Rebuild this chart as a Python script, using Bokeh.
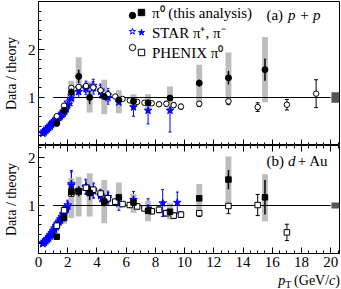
import numpy as np
from bokeh.plotting import figure
from bokeh.models import (ColumnDataSource, FixedTicker, LinearAxis, Label, Div,
                          Legend, LegendItem, Range1d, Whisker, TeeHead)
from bokeh.layouts import column
from bokeh.embed import file_html
from bokeh.resources import INLINE

# ---------------- data ----------------
pi0_x = [1.25, 1.75, 2.25, 2.75, 3.5, 4.5, 5.5, 6.5, 7.5, 9.0, 11.0, 13.0, 15.5]
pi0_pp_y = [0.46, 0.73, 1.11, 1.44, 1.00, 1.02, 0.95, 0.92, 0.89, 0.99, 1.30, 1.41, 1.58]
pi0_pp_stat = [0.02, 0.04, 0.08, 0.14, 0.14, 0.06, 0.05, 0.04, 0.05, 0.06, 0.07, 0.14, 0.23]
pi0_pp_sys_bottom = [0.44, 0.70, 0.90, 1.11, 0.69, 0.65, 0.67, 0.78, 0.77, 0.73, 0.90, 0.90, 0.90]
pi0_pp_sys_top = [0.48, 0.76, 1.35, 1.84, 1.33, 1.37, 1.15, 1.07, 1.07, 1.23, 1.68, 1.94, 2.26]

pi0_dau_y = [0.35, 0.74, 1.29, 1.29, 1.26, 1.08, 1.17, 1.06, 0.89, 0.87, 1.15, 1.54, 1.17]
pi0_dau_stat = [0.02, 0.04, 0.10, 0.10, 0.15, 0.10, 0.07, 0.06, 0.05, 0.05, 0.06, 0.20, 0.36]
pi0_dau_sys_bottom = [0.33, 0.62, 0.74, 0.77, 0.77, 0.63, 0.94, 0.85, 0.67, 0.71, 0.87, 0.94, 0.67]
pi0_dau_sys_top = [0.37, 0.90, 1.57, 1.60, 1.67, 1.53, 1.48, 1.24, 1.10, 1.05, 1.45, 2.02, 1.65]

star_pp_minus_x = [0.3, 0.4, 0.5, 0.6, 0.7, 0.8, 0.9, 1.0, 1.1, 1.2, 1.3, 1.4, 1.5, 1.6, 1.7, 1.8, 1.9, 2.0,
                   2.25, 2.75, 3.25, 3.75, 4.25, 4.75, 5.5, 6.5, 7.5, 9.0]
star_pp_minus_y = [0.25, 0.28, 0.31, 0.34, 0.37, 0.40, 0.44, 0.47, 0.50, 0.53, 0.56, 0.58, 0.61, 0.64, 0.67, 0.71, 0.76, 0.85,
                   0.98, 1.12, 1.18, 1.20, 1.12, 1.00, 0.90, 0.80, 0.73, 0.73]
star_pp_minus_err = [0.03, 0.03, 0.03, 0.03, 0.03, 0.03, 0.04, 0.04, 0.04, 0.04, 0.05, 0.05, 0.05, 0.06, 0.06, 0.07, 0.08, 0.10,
                     0.15, 0.12, 0.12, 0.13, 0.13, 0.14, 0.21, 0.19, 0.28, 0.45]

star_pp_plus_x = [0.3, 0.4, 0.5, 0.6, 0.7, 0.8, 0.9, 1.0, 1.1, 1.2, 1.3, 1.4, 1.5, 1.6, 1.7, 1.8, 1.9, 2.0,
                  2.25, 2.75, 3.25, 3.75, 4.25, 4.75]
star_pp_plus_y = [0.27, 0.30, 0.33, 0.36, 0.39, 0.42, 0.46, 0.49, 0.52, 0.55, 0.58, 0.61, 0.64, 0.67, 0.71, 0.75, 0.81, 0.90,
                  1.03, 1.20, 1.22, 1.25, 1.15, 1.05]
star_pp_plus_err = [0.03, 0.03, 0.03, 0.03, 0.03, 0.03, 0.04, 0.04, 0.04, 0.04, 0.05, 0.05, 0.05, 0.06, 0.06, 0.07, 0.08, 0.10,
                    0.15, 0.12, 0.12, 0.13, 0.13, 0.14]

star_dau_minus_x = [0.3, 0.4, 0.5, 0.6, 0.7, 0.8, 0.9, 1.0, 1.1, 1.2, 1.3, 1.4, 1.5, 1.6, 1.7, 1.8, 1.9, 2.0,
                    2.25, 2.75, 3.25, 3.75, 4.25, 4.75, 5.5, 6.5, 7.5, 8.5, 9.5]
star_dau_minus_y = [0.20, 0.23, 0.26, 0.29, 0.32, 0.36, 0.40, 0.45, 0.50, 0.55, 0.60, 0.65, 0.69, 0.74, 0.80, 0.86, 0.92, 0.98,
                    1.42, 1.30, 1.38, 1.32, 1.20, 1.18, 1.05, 1.12, 0.94, 1.05, 1.06]
star_dau_minus_err = [0.03, 0.03, 0.03, 0.03, 0.03, 0.03, 0.04, 0.04, 0.04, 0.04, 0.05, 0.05, 0.05, 0.06, 0.06, 0.07, 0.08, 0.10,
                      0.28, 0.15, 0.15, 0.15, 0.12, 0.12, 0.15, 0.17, 0.20, 0.28, 0.22]

star_dau_plus_x = [0.3, 0.4, 0.5, 0.6, 0.7, 0.8, 0.9, 1.0, 1.1, 1.2, 1.3, 1.4, 1.5, 1.6, 1.7, 1.8, 1.9, 2.0,
                   2.25, 2.75, 3.25, 3.75, 4.25, 4.75]
star_dau_plus_y = [0.22, 0.25, 0.28, 0.31, 0.35, 0.39, 0.43, 0.48, 0.53, 0.58, 0.63, 0.67, 0.72, 0.77, 0.83, 0.89, 0.95, 1.01,
                   1.45, 1.32, 1.40, 1.30, 1.22, 1.15]
star_dau_plus_err = [0.03, 0.03, 0.03, 0.03, 0.03, 0.03, 0.04, 0.04, 0.04, 0.04, 0.05, 0.05, 0.05, 0.06, 0.06, 0.07, 0.08, 0.10,
                     0.28, 0.15, 0.15, 0.15, 0.12, 0.12]

phenix_pp_x = [1.25, 1.75, 2.25, 2.75, 3.25, 3.75, 4.25, 4.75, 5.25, 5.75, 6.25, 6.75, 7.25, 7.75,
               8.25, 8.75, 9.25, 9.75, 11.0, 13.0, 15.0, 17.0, 19.0]
phenix_pp_y = [0.61, 0.83, 1.20, 1.22, 1.24, 1.21, 1.15, 1.07, 1.02, 0.97, 0.94, 0.91, 0.89, 0.88,
               0.86, 0.87, 0.84, 0.81, 0.87, 0.92, 0.80, 0.85, 1.08]
phenix_pp_err = [0.02, 0.02, 0.03, 0.03, 0.03, 0.04, 0.04, 0.04, 0.04, 0.04, 0.04, 0.04, 0.04, 0.04,
                 0.04, 0.05, 0.05, 0.05, 0.06, 0.07, 0.09, 0.11, 0.29]

phenix_dau_x = [1.25, 1.75, 2.25, 2.75, 3.25, 3.75, 4.25, 4.75, 5.25, 5.75, 6.25, 6.75, 7.25, 7.75,
                8.25, 8.75, 9.25, 9.75, 11.0, 13.0, 15.0, 17.0]
phenix_dau_y = [0.58, 0.90, 1.25, 1.30, 1.37, 1.33, 1.25, 1.15, 1.08, 1.03, 1.01, 0.98, 0.94, 0.88,
                0.91, 0.84, 0.79, 0.81, 0.84, 0.99, 1.01, 0.44]
phenix_dau_err = [0.02, 0.03, 0.04, 0.05, 0.05, 0.05, 0.05, 0.05, 0.05, 0.05, 0.05, 0.05, 0.05, 0.05,
                  0.06, 0.06, 0.06, 0.06, 0.07, 0.16, 0.22, 0.17]

norm_unc_pp = 0.11
norm_unc_dau = 0.06
unity_line_x = [1.0, 20.0]
unity_line_y = [1.0, 1.0]

x_tick_labels = [0, 2, 4, 6, 8, 10, 12, 14, 16, 18, 20]
y_tick_labels = [1, 2]

# ---------------- style ----------------
FONT = "Liberation Serif"
BLUE = "#0000ff"
GREY = "#bdbdbd"
DARK = "#555555"
BOX_HW = 0.2
NORM_X0, NORM_X1 = 20.05, 20.6
XMAX = 20.6
W = 341
LEFT = 34
RIGHT = 2

x_range = Range1d(0, XMAX)
minor_x = [float(v) for v in np.arange(0.5, XMAX, 0.5) if v % 2 != 0]


def style_axis(ax, ticks, minor):
    ax.ticker = FixedTicker(ticks=ticks, minor_ticks=minor)
    ax.major_tick_in = 6
    ax.major_tick_out = 0
    ax.minor_tick_in = 3
    ax.minor_tick_out = 0
    ax.axis_line_color = "black"
    ax.major_tick_line_color = "black"
    ax.minor_tick_line_color = "black"
    ax.major_label_text_font = FONT
    ax.major_label_text_color = "black"
    ax.major_label_text_font_size = "15px"
    ax.major_label_standoff = 3


def tick_only_axes(p, side):
    # long ticks at the labelled positions, short ticks in between; no labels
    for pos, length in ((x_tick_labels, 6), (minor_x, 3)):
        ax = LinearAxis()
        ax.ticker = FixedTicker(ticks=[], minor_ticks=pos)
        ax.minor_tick_in = length
        ax.minor_tick_out = 0
        ax.major_tick_out = 0
        ax.major_label_standoff = 0
        ax.minor_tick_line_color = "black"
        ax.axis_line_color = "black"
        p.add_layout(ax, side)


def make_fig(height, ymax, top_border, bottom_border):
    p = figure(width=W, height=height, x_range=x_range, y_range=Range1d(0, ymax),
               x_axis_type=None, y_axis_type=None, output_backend="svg",
               toolbar_location=None, min_border_left=LEFT, min_border_right=RIGHT,
               min_border_top=top_border, min_border_bottom=bottom_border)
    p.outline_line_color = "black"
    p.outline_line_width = 1
    p.background_fill_color = "white"
    p.border_fill_color = "white"
    yax = LinearAxis(axis_label="Data / theory")
    minor_y = [round(float(v), 1) for v in np.arange(0.2, ymax, 0.2)]
    style_axis(yax, y_tick_labels, minor_y)
    yax.axis_label_text_font = FONT
    yax.axis_label_text_font_style = "normal"
    yax.axis_label_text_font_size = "14px"
    yax.axis_label_standoff = 6
    yax.axis_label_text_color = "black"
    p.add_layout(yax, "left")
    return p


def draw_panel(p, pi0_y, pi0_stat, sys_b, sys_t, st_m, st_p, ph, marker, norm_unc):
    src_box = ColumnDataSource(dict(left=np.array(pi0_x) - BOX_HW, right=np.array(pi0_x) + BOX_HW,
                                    bottom=sys_b, top=sys_t))
    p.quad(left="left", right="right", bottom="bottom", top="top", source=src_box,
           fill_color=GREY, line_color=None)
    p.line(unity_line_x, unity_line_y, line_color="black", line_width=1)
    p.quad(left=[NORM_X0], right=[NORM_X1], bottom=[1 - norm_unc], top=[1 + norm_unc],
           fill_color=DARK, line_color=None)
    rs = {}
    for key, (xs, ys, es) in (("plus", st_p), ("minus", st_m)):
        xs = np.array(xs); ys = np.array(ys); es = np.array(es)
        src = ColumnDataSource(dict(x=xs, y=ys, lo=ys - es, hi=ys + es))
        p.add_layout(Whisker(source=src, base="x", lower="lo", upper="hi", line_color=BLUE, line_width=1,
                             lower_head=TeeHead(size=3, line_color=BLUE),
                             upper_head=TeeHead(size=3, line_color=BLUE)))
        fill = "white" if key == "plus" else BLUE
        rs[key] = p.scatter("x", "y", source=src, marker="star", size=8,
                            fill_color=fill, line_color=BLUE, line_width=1)
    xs, ys, es = (np.array(a) for a in ph)
    src = ColumnDataSource(dict(x=xs, y=ys, lo=ys - es, hi=ys + es))
    p.add_layout(Whisker(source=src, base="x", lower="lo", upper="hi", line_color="black", line_width=1,
                         lower_head=TeeHead(size=4, line_color="black"),
                         upper_head=TeeHead(size=4, line_color="black")))
    rs["ph"] = p.scatter("x", "y", source=src, marker=marker, size=5.5,
                         fill_color="white", line_color="black", line_width=1)
    ys = np.array(pi0_y); es = np.array(pi0_stat)
    src = ColumnDataSource(dict(x=pi0_x, y=ys, lo=ys - es, hi=ys + es))
    p.segment(x0="x", y0="lo", x1="x", y1="hi", source=src, line_color="black", line_width=1.5)
    rs["pi0"] = p.scatter("x", "y", source=src, marker=marker, size=6 if marker == "circle" else 5.5,
                          fill_color="black", line_color="black")
    return rs


# ---------------- top panel (p+p) ----------------
top = make_fig(145, 3.0, 1, 0)
tick_only_axes(top, "below")
rs_pp = draw_panel(top, pi0_pp_y, pi0_pp_stat, pi0_pp_sys_bottom, pi0_pp_sys_top,
                   (star_pp_minus_x, star_pp_minus_y, star_pp_minus_err),
                   (star_pp_plus_x, star_pp_plus_y, star_pp_plus_err),
                   (phenix_pp_x, phenix_pp_y, phenix_pp_err), "circle", norm_unc_pp)

# legend-key proxies for the marker styles (not drawn in the frame)
proxy_circ = top.scatter(x=[np.nan], y=[np.nan], marker="circle", size=6,
                         fill_color="black", line_color="black")
proxy_sq = top.scatter(x=[np.nan], y=[np.nan], marker="square", size=5.5,
                       fill_color="black", line_color="black")
proxy_osq = top.scatter(x=[np.nan], y=[np.nan], marker="square", size=5.5,
                        fill_color="white", line_color="black")

legend_kw = dict(orientation="vertical", padding=0, margin=0, spacing=0, glyph_width=16,
                 glyph_height=16, label_height=16, label_width=0, border_line_alpha=0,
                 background_fill_alpha=0, label_text_font=FONT, label_text_font_size="15px",
                 label_text_color="black")
leg1 = Legend(items=[LegendItem(label=" ", renderers=[proxy_circ]),
                     LegendItem(label="  ", renderers=[rs_pp["plus"]]),
                     LegendItem(label="   ", renderers=[rs_pp["ph"]])],
              location=(86, 90), label_standoff=0, **legend_kw)
leg2 = Legend(items=[LegendItem(label="π⁰ (this analysis)", renderers=[proxy_sq]),
                     LegendItem(label="STAR π⁺, π⁻", renderers=[rs_pp["minus"]]),
                     LegendItem(label="PHENIX π⁰", renderers=[proxy_osq])],
              location=(95, 83), label_standoff=3, **legend_kw)
top.add_layout(leg1)
top.add_layout(leg2)

top.add_layout(Label(x=15.6, y=2.71, text="(a)", text_font=FONT, text_font_size="15px",
                     text_baseline="middle", text_color="black"))
top.add_layout(Label(x=17.07, y=2.71, text="p + p", text_font=FONT, text_font_size="15px",
                     text_font_style="italic", text_baseline="middle", text_color="black"))

# ---------------- bottom panel (d+Au) ----------------
bot = make_fig(130, 2.25, 0, 22)
tick_only_axes(bot, "above")
ax_below = LinearAxis()
style_axis(ax_below, x_tick_labels, minor_x)
bot.add_layout(ax_below, "below")
draw_panel(bot, pi0_dau_y, pi0_dau_stat, pi0_dau_sys_bottom, pi0_dau_sys_top,
           (star_dau_minus_x, star_dau_minus_y, star_dau_minus_err),
           (star_dau_plus_x, star_dau_plus_y, star_dau_plus_err),
           (phenix_dau_x, phenix_dau_y, phenix_dau_err), "square", norm_unc_dau)

bot.add_layout(Label(x=15.6, y=1.92, text="(b)", text_font=FONT, text_font_size="15px",
                     text_baseline="middle", text_color="black"))
bot.add_layout(Label(x=17.07, y=1.92, text="d", text_font=FONT, text_font_size="15px",
                     text_font_style="italic", text_baseline="middle", text_color="black"))
bot.add_layout(Label(x=17.75, y=1.92, text="+ Au", text_font=FONT, text_font_size="15px",
                     text_baseline="middle", text_color="black"))

# x-axis title  p_T (GeV/c), right aligned under the axis
xtitle = Div(text='<i>p</i><sub style="font-size:10px;vertical-align:-3px">T</sub>'
                  '&thinsp;(GeV/<i>c</i>)',
             width=W, height=14, margin=(0, 0, 0, 0),
             styles={"font-family": FONT, "font-size": "14px", "line-height": "12px",
                     "text-align": "right", "color": "black", "padding-right": "1px",
                     "box-sizing": "border-box"})

layout = column(top, bot, xtitle, spacing=0)
open("out.html", "w").write(file_html(layout, INLINE))
